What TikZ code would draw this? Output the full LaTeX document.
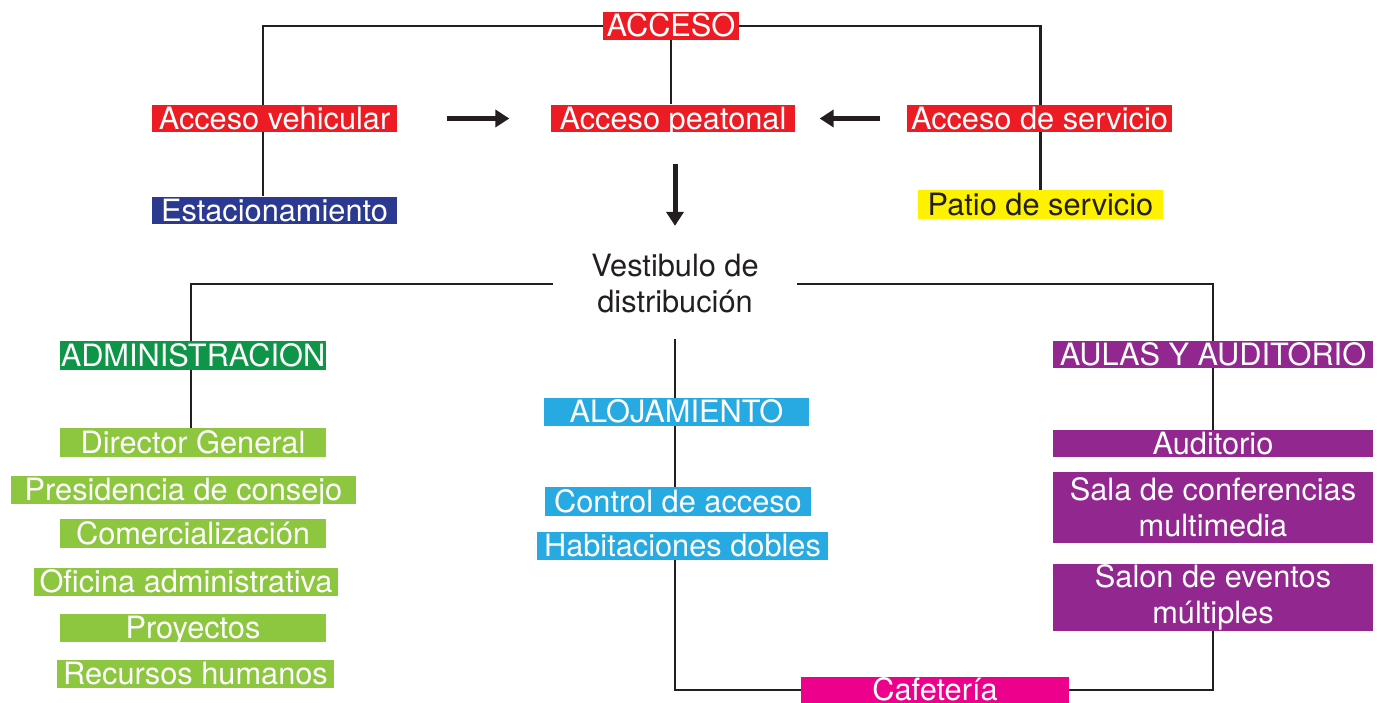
\documentclass[tikz,border=0pt]{standalone}
\usepackage{fontspec}
\setmainfont{TeX Gyre Heros}
\usepackage{xcolor}
\usepackage{tikz}
\usetikzlibrary{positioning,arrows.meta,backgrounds}
\definecolor{rojo}{HTML}{ED1C24}
\definecolor{azul}{HTML}{2B3990}
\definecolor{amarillo}{HTML}{FFF200}
\definecolor{verdeosc}{HTML}{0F9547}
\definecolor{verde}{HTML}{8DC63F}
\definecolor{celeste}{HTML}{27AAE1}
\definecolor{morado}{HTML}{92278F}
\definecolor{magenta}{HTML}{EC008C}
\definecolor{tinta}{HTML}{231F20}

\begin{document}
\begin{tikzpicture}[x=0.02cm, y=-0.02cm,
    caja/.style={fill=#1, text=white, inner sep=0pt, minimum height=0.56cm,
        text height=13.9pt, text depth=1.4pt,
        font=\fontsize{17.5}{20.5}\selectfont},
    doble/.style={text height={}, text depth={}, align=center},
    ancho/.style={minimum width=#1*0.02cm},
    alto/.style={minimum height=#1*0.02cm},
    linea/.style={draw=tinta, line width=0.05cm},
    flecha/.style={draw=tinta, line width=0.1cm, -{Triangle[length=0.28cm,width=0.34cm]}}]
    \useasboundingbox (0,0) rectangle (1383,703);

    % Accesos
    \node[caja=rojo, ancho=136] (acceso) at (671,26) {ACCESO};
    \node[caja=rojo, ancho=245] (vehic) at (274.5,118.5) {Acceso vehicular};
    \node[caja=rojo, ancho=244] (peatonal) at (673,118.5) {Acceso peatonal};
    \node[caja=rojo, ancho=265] (servicio) at (1039.5,118.5) {Acceso de servicio};
    \node[caja=azul, ancho=245] (estac) at (274.5,210.5) {Estacionamiento};
    \node[caja=amarillo, text=tinta, ancho=245, alto=29] (patio) at (1040.5,204.5) {Patio de servicio};

    % Vestibulo
    \node[ancho=244, alto=110, align=center, text=tinta,
        font=\fontsize{17.5}{20.5}\selectfont] (vest) at (675,284) {Vestibulo de\\distribución};

    % Administracion
    \node[caja=verdeosc, ancho=266, alto=29] (admin) at (193,355.5) {ADMINISTRACION};
    \node[caja=verde, ancho=266, alto=29] (director) at (193,442.5) {Director General};
    \node[caja=verde, ancho=345] (presid) at (183.5,490) {Presidencia de consejo};
    \node[caja=verde, ancho=266, alto=29] (comerc) at (193,533.5) {Comercialización};
    \node[caja=verde, ancho=304] (oficina) at (186,582) {Oficina administrativa};
    \node[caja=verde, ancho=266] (proyectos) at (193,628) {Proyectos};
    \node[caja=verde, ancho=277] (recursos) at (195.5,674) {Recursos humanos};

    % Alojamiento
    \node[caja=celeste, ancho=265] (aloj) at (676.5,412) {ALOJAMIENTO};
    \node[caja=celeste, ancho=266, alto=29] (control) at (678,501.5) {Control de acceso};
    \node[caja=celeste, ancho=291] (habit) at (682.5,546) {Habitaciones dobles};

    % Aulas y auditorio
    \node[caja=morado, ancho=320, alto=27] (aulas) at (1213,354.5) {AULAS Y AUDITORIO};
    \node[caja=morado, ancho=320, alto=27] (auditorio) at (1213,443.5) {Auditorio};
    \node[caja=morado, doble, ancho=320, alto=71] (sala) at (1213,507.5) {Sala de conferencias\\multimedia};
    \node[caja=morado, doble, ancho=320, alto=67] (salon) at (1213,597.5) {Salon de eventos\\múltiples};
    \node[caja=magenta, ancho=268, alto=26] (cafe) at (935,690) {Cafetería};

    % Lineas
    \begin{scope}[on background layer]
        \draw[linea] ([xshift=-0.23cm]estac.north) |- (acceso.west);
        \draw[linea] (patio.north) |- (acceso.east);
        \draw[linea] (acceso.south) -- (acceso.south |- peatonal.north);
        \draw[linea] (vest.west) -| ([xshift=-0.04cm]director.north);
        \draw[linea] (vest.east) -| (auditorio.north);
        \draw[linea] (vest.south) -- (vest.south |- control.north);
        \draw[linea] (vest.south |- habit.south) |- (cafe.west);
        \draw[linea] (cafe.east) -| (salon.south);
    \end{scope}

    % Flechas
    \draw[flecha] (vehic.east) ++(50,0) -- ++(62,0);
    \draw[flecha] (servicio.west) ++(-27,0) -- ++(-60,0);
    \draw[flecha] (peatonal.south -| vest.north) ++(0,31) -- ++(0,62);
\end{tikzpicture}
\end{document}
